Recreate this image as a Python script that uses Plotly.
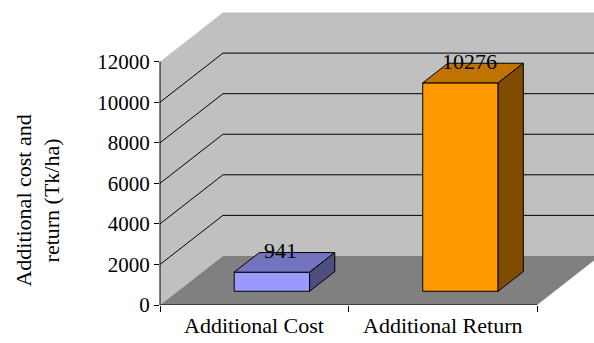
import plotly.graph_objects as go

# ---- data ----
categories = ["Additional Cost", "Additional Return"]
values = [941, 10276]
value_labels = ["941", "10276"]
y_ticks = [0, 2000, 4000, 6000, 8000, 10000, 12000]
y_tick_text = ["0", "2000", "4000", "6000", "8000", "10000", "12000"]
y_title = "Additional cost and<br>return (Tk/ha)"

# ---- styles ----
front_colors = ["#9999ff", "#ff9900"]
top_colors = ["#7373bf", "#bf7300"]
side_colors = ["#4d4d80", "#804d00"]
WALL = "#c0c0c0"
FLOOR = "#808080"
FONT = "Liberation Serif"

# pseudo-3D geometry (in axis units)
DX = 0.334   # depth offset along x (category units)
DY = 2420    # depth offset along y (value units)
F0 = 0.28    # depth fraction of bar front face
BD = 0.40    # bar depth fraction
BW = 0.40    # bar width (category units)
X_RANGE = [-0.5, 1.802]
Y_RANGE = [0, 15040]

n = len(categories)
x_left = -0.5
x_right = n - 0.5
y_top = y_ticks[-1]

fig = go.Figure()

shapes = []

def poly(pts, fill, line_color=None, width=0):
    path = "M " + " L ".join(f"{x},{y}" for x, y in pts) + " Z"
    return dict(type="path", path=path, xref="x", yref="y", fillcolor=fill,
                line=dict(color=line_color or fill, width=width), layer="below")

# back wall
shapes.append(poly([(x_left + DX, DY), (x_right + DX + 1, DY),
                    (x_right + DX + 1, y_top + DY), (x_left + DX, y_top + DY)], WALL))
# side wall
shapes.append(poly([(x_left, 0), (x_left, y_top), (x_left + DX, y_top + DY), (x_left + DX, DY)], WALL))
# gridlines
for v in y_ticks[1:-1]:
    shapes.append(dict(type="line", xref="x", yref="y", x0=x_left, y0=v, x1=x_left + DX, y1=v + DY,
                       line=dict(color="black", width=1), layer="below"))
    shapes.append(dict(type="line", xref="x", yref="y", x0=x_left + DX, y0=v + DY, x1=x_right + DX + 1, y1=v + DY,
                       line=dict(color="black", width=1), layer="below"))
# floor
shapes.append(poly([(x_left, 0), (x_right, 0), (x_right + DX, DY), (x_left + DX, DY)], FLOOR))
# axis lines
shapes.append(dict(type="line", xref="paper", yref="y", x0=0, x1=0, y0=0, y1=y_top,
                   line=dict(color="black", width=1)))
shapes.append(dict(type="line", xref="x", yref="y", x0=x_left, x1=x_right, y0=0, y1=0,
                   line=dict(color="black", width=1)))

# bars: front faces
xs = [i + F0 * DX for i in range(n)]
base = F0 * DY
fig.add_trace(go.Bar(x=xs, y=values, base=base, width=BW,
                     marker=dict(color=front_colors, line=dict(color="black", width=1)),
                     hoverinfo="skip", showlegend=False))

# top and side faces
for i, v in enumerate(values):
    xl, xr = xs[i] - BW / 2, xs[i] + BW / 2
    yt = base + v
    ddx, ddy = BD * DX, BD * DY
    fig.add_trace(go.Scatter(x=[xl, xr, xr + ddx, xl + ddx, xl], y=[yt, yt, yt + ddy, yt + ddy, yt],
                             fill="toself", fillcolor=top_colors[i], mode="lines",
                             line=dict(color="black", width=1), hoverinfo="skip", showlegend=False))
    fig.add_trace(go.Scatter(x=[xr, xr, xr + ddx, xr + ddx, xr], y=[base, yt, yt + ddy, base + ddy, base],
                             fill="toself", fillcolor=side_colors[i], mode="lines",
                             line=dict(color="black", width=1), hoverinfo="skip", showlegend=False))

annotations = []
for i, v in enumerate(values):
    annotations.append(dict(x=xs[i] + BD * DX / 2, y=base + v + BD * DY, xref="x", yref="y",
                            text=value_labels[i], showarrow=False, xanchor="center", yanchor="middle",
                            xshift=-4, yshift=2, font=dict(family=FONT, size=22, color="black")))
for i, c in enumerate(categories):
    annotations.append(dict(x=i, y=-0.0656, xref="x", yref="paper", text=c, showarrow=False,
                            xanchor="center", yanchor="middle",
                            font=dict(family=FONT, size=22, color="black")))
annotations.append(dict(x=-0.282, y=0.341, xref="paper", yref="paper", text=y_title, showarrow=False,
                        textangle=-90, xanchor="center", yanchor="middle",
                        font=dict(family=FONT, size=22, color="black")))

fig.update_layout(
    width=594, height=343,
    margin=dict(l=160, r=0, t=0, b=38, pad=0),
    paper_bgcolor="white", plot_bgcolor="white",
    shapes=shapes, annotations=annotations,
    xaxis=dict(range=X_RANGE, showgrid=False, zeroline=False, showline=False,
               tickmode="array", tickvals=[x_left + k for k in range(n + 1)],
               ticktext=["" for _ in range(n + 1)], ticks="outside", ticklen=6,
               tickcolor="black", tickwidth=1, showticklabels=False, fixedrange=True),
    yaxis=dict(range=Y_RANGE, showgrid=False, zeroline=False, showline=False,
               tickmode="array", tickvals=y_ticks, ticktext=y_tick_text,
               ticks="outside", ticklen=5, tickcolor="black", tickwidth=1,
               tickfont=dict(family=FONT, size=21, color="black"), fixedrange=True),
    showlegend=False,
)

fig.write_html("out.html")
